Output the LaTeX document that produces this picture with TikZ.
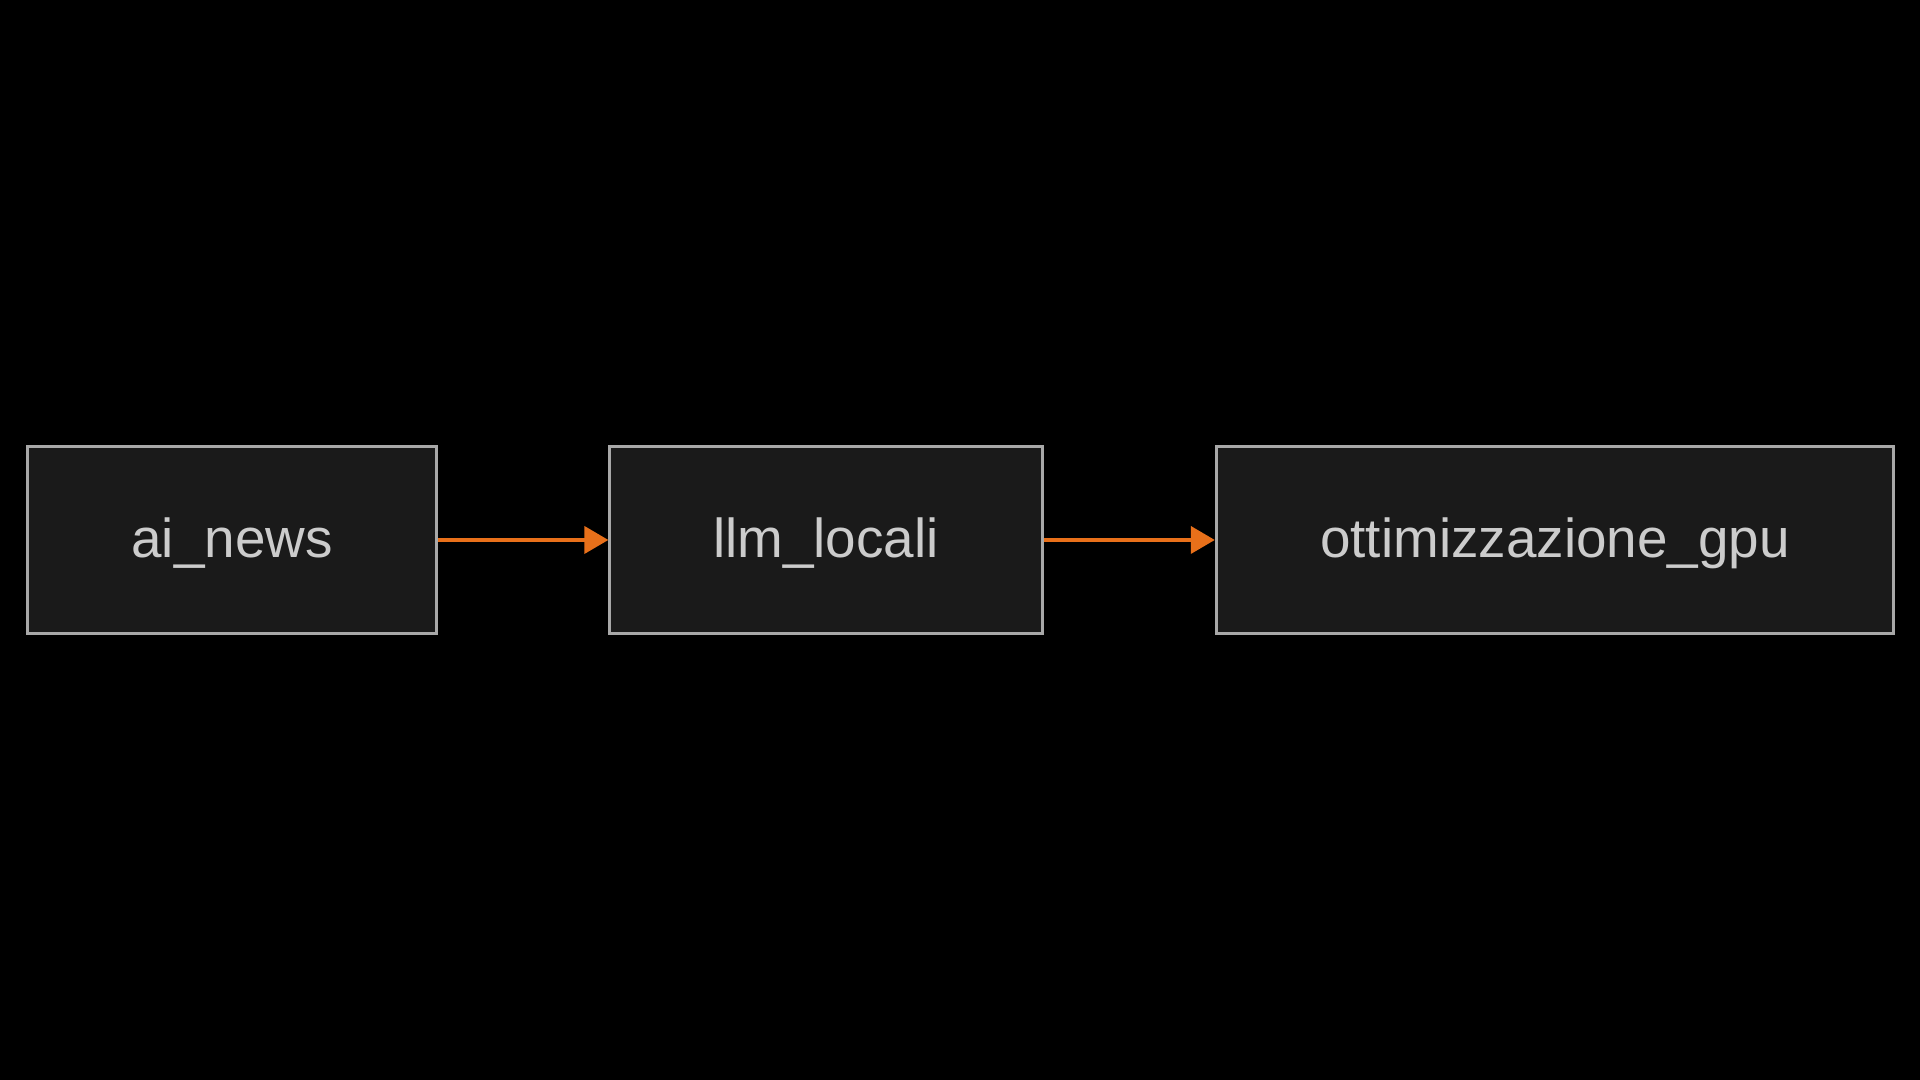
\documentclass[tikz,border=0pt]{standalone}
\usepackage{fontspec}
\setmainfont{Liberation Sans}
\usepackage{tikz}
\usetikzlibrary{positioning}
\usetikzlibrary{calc,arrows.meta}

\definecolor{boxfill}{HTML}{1A1A1A}
\definecolor{boxline}{HTML}{A8A8A8}
\definecolor{boxtext}{HTML}{CCCCCC}
\definecolor{linkorange}{HTML}{E8701A}

\begin{document}
\begin{tikzpicture}
[   x=0.01cm,y=0.01cm,
    topic/.style={draw=boxline,line width=0.85pt,fill=boxfill,text=boxtext,
        minimum height=1.86cm,minimum width=#1,inner sep=0pt,
        text height=13pt,text depth=2.8pt,
        font=\fontsize{15.6}{18}\selectfont},
]
\tikzset{link arrow/.style={draw=linkorange,line width=1.1pt,-{Triangle[length=0.24cm,width=0.27cm]}}}
\path[fill=black] (0,0) rectangle (1920,1080);
\node[topic=4.08cm] (ai) at (232,540) {ai\_news};
\node[topic=4.32cm] (llm) at (826,540) {llm\_locali};
\node[topic=6.77cm] (gpu) at (1555,540) {ottimizzazione\_gpu};
\path[link arrow] (ai) -- (llm);
\path[link arrow] (llm) -- (gpu);
\end{tikzpicture}
\end{document}
